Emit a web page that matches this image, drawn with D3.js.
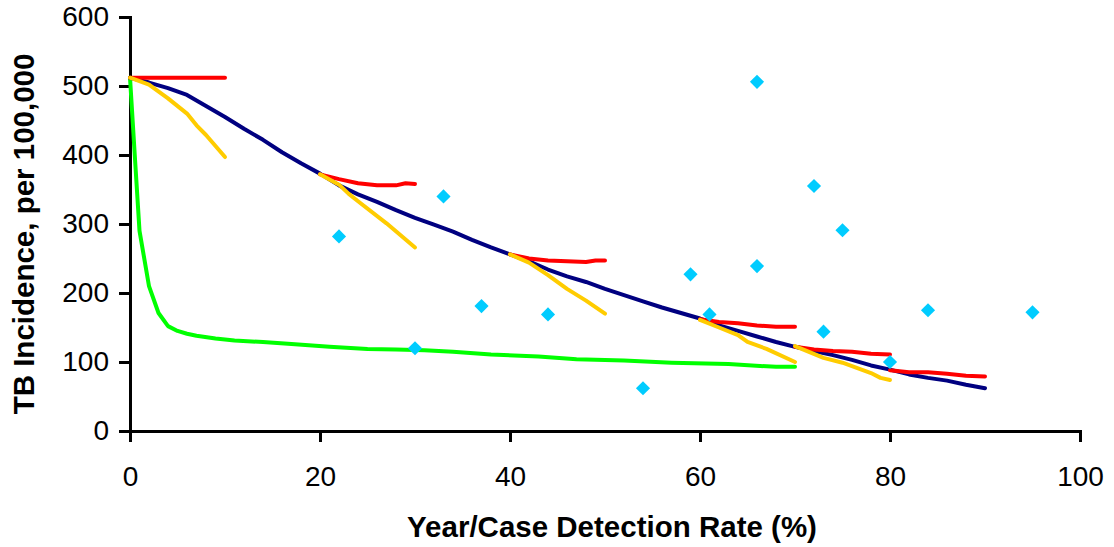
<!DOCTYPE html>
<html>
<head>
<meta charset="utf-8">
<script src="https://cdn.jsdelivr.net/npm/d3@7"></script>
<style>
  body { margin: 0; background: #fff; }
  svg text { font-family: "Liberation Sans", Arial, sans-serif; }
</style>
</head>
<body>
<div id="chart"></div>
<script>
var svgWidth = 1114;
var svgHeight = 547;

var margin = {
  top: 17,
  bottom: 116,
  right: 34,
  left: 130
};

var width = svgWidth - margin.left - margin.right;
var height = svgHeight - margin.top - margin.bottom;

// axis ticks
var xTicks = [0, 20, 40, 60, 80, 100];
var yTicks = [0, 100, 200, 300, 400, 500, 600];

// blue diamonds (country points)
var pointsX = [22, 30, 33, 37, 44, 54, 59, 61, 66, 66, 72, 73, 75, 80, 84, 95];
var pointsY = [282, 120, 340, 181, 169, 62, 227, 169, 239, 506, 355, 144, 291, 100, 175, 172];

// navy curve
var navyLine = [[0,512],[2,505],[4,497],[6,487],[8,471],[10,455],[12,438],[14,422],[16,404],[18,388],
  [20,373],[22,356],[24,343],[26,332],[28,320],[30,309],[32,299],[34,289],[36,277],[38,266],
  [40,256],[42,246],[44,234],[46,224],[48,216],[50,206],[52,197],[54,188],[56,179],[58,171],
  [60,163],[62,153],[64,145],[66,137],[68,129],[70,122],[72,116],[74,110],[76,103],[78,95],
  [80,89],[82,82],[84,77],[86,73],[88,67],[90,62]];

// green curve
var greenLine = [[0,512],[0.5,400],[1,290],[2,210],[3,171],[4,152],[5,145],[6,141],[7,138],[9,134],
  [11,131],[14,129],[17,126],[21,122],[25,119],[28,118],[31,117],[34,115],[38,111],[43,108],
  [47,104],[52,102],[57,99],[63,97],[68,93],[70,93]];

// red short segments
var redLines = [
  [[0,512],[10,512]],
  [[20,372],[22,365],[24,359],[26,356],[28,356],[29,359],[30,358]],
  [[40,256],[42,250],[44,247],[46,246],[48,245],[49,247],[50,247]],
  [[60,162],[62,158],[64,156],[66,153],[68,151],[70,151]],
  [[70,122],[72,118],[74,116],[76,115],[78,112],[80,111]],
  [[80,88],[82,85],[84,85],[86,83],[88,80],[90,79]]
];

// yellow short segments
var yellowLines = [
  [[0,512],[2,502],[4,482],[6,460],[7,443],[8,429],[10,397]],
  [[20,372],[22,357],[23,344],[24,333],[27,301],[30,266]],
  [[40,256],[42,244],[44,226],[46,206],[48,189],[50,170]],
  [[60,161],[62,150],[64,139],[65,129],[67,119],[70,100]],
  [[70,123],[73,106],[75,99],[78,84],[79,77],[80,74]]
];

var svg = d3.select("#chart")
  .append("svg")
  .attr("width", svgWidth)
  .attr("height", svgHeight);

var chartGroup = svg.append("g")
  .attr("transform", `translate(${margin.left}, ${margin.top})`);

var xScale = d3.scaleLinear().domain([0, 100]).range([0, width]);
var yScale = d3.scaleLinear().domain([0, 600]).range([height, 0]);

var xAxis = d3.axisBottom(xScale).tickValues(xTicks).tickSize(11).tickPadding(24);
var yAxis = d3.axisLeft(yScale).tickValues(yTicks).tickSize(11).tickPadding(10);

function styleAxis(g) {
  g.selectAll("path, line").attr("stroke", "#000").attr("stroke-width", 3);
  g.selectAll("text")
    .attr("fill", "#000")
    .style("font-size", "28px");
}

chartGroup.append("g")
  .attr("transform", `translate(0, ${height})`)
  .call(xAxis)
  .call(styleAxis);

chartGroup.append("g")
  .call(yAxis)
  .call(styleAxis);

var line = d3.line()
  .x(d => xScale(d[0]))
  .y(d => yScale(d[1]));

function drawLine(data, color) {
  chartGroup.append("path")
    .datum(data)
    .attr("d", line)
    .attr("fill", "none")
    .attr("stroke", color)
    .attr("stroke-width", 4)
    .attr("stroke-linejoin", "round")
    .attr("stroke-linecap", "round");
}

drawLine(greenLine, "#00FF00");
drawLine(navyLine, "#000080");
redLines.forEach(seg => drawLine(seg, "#FF0000"));
yellowLines.forEach(seg => drawLine(seg, "#FFCC00"));

var diamond = d3.symbol().type(d3.symbolSquare).size(100);
chartGroup.selectAll(".pt")
  .data(pointsX)
  .enter()
  .append("path")
  .attr("class", "pt")
  .attr("d", diamond)
  .attr("transform", (d, i) => `translate(${xScale(d)}, ${yScale(pointsY[i])}) rotate(45)`)
  .attr("fill", "#00CCFF");

// axis titles
svg.append("text")
  .attr("x", 612)
  .attr("y", 537)
  .attr("text-anchor", "middle")
  .style("font-size", "29.5px")
  .style("font-weight", "bold")
  .text("Year/Case Detection Rate (%)");

svg.append("text")
  .attr("transform", `translate(34, 234) rotate(-90)`)
  .attr("text-anchor", "middle")
  .style("font-size", "29.5px")
  .style("font-weight", "bold")
  .text("TB Incidence, per 100,000");
</script>
</body>
</html>
